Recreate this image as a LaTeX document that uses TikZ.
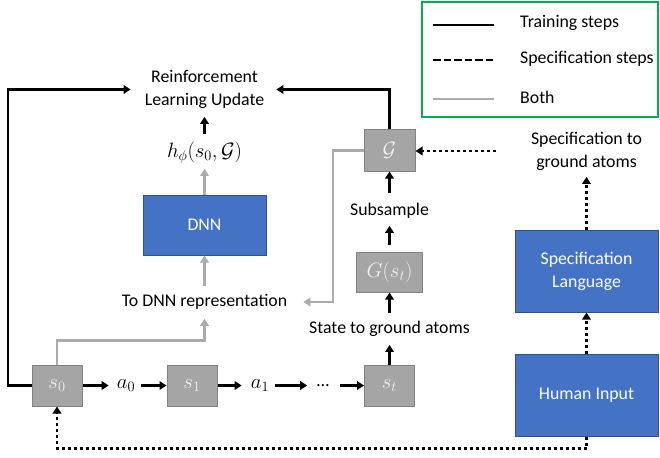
\documentclass[tikz,border=0pt]{standalone}
\usepackage[no-math]{fontspec}
\setmainfont{Carlito}
\usetikzlibrary{arrows.meta}
\definecolor{boxblue}{RGB}{68,114,196}
\definecolor{boxblueedge}{RGB}{47,82,143}
\definecolor{stategrey}{RGB}{165,165,165}
\definecolor{stateedge}{RGB}{130,130,130}
\definecolor{linegrey}{RGB}{171,171,171}
\definecolor{legendgreen}{RGB}{0,176,80}
% larger size for the math symbols
\newcommand{\bigmath}[1]{{\fontsize{20.7}{23}\selectfont$#1$}}

\begin{document}
\begin{tikzpicture}[x=1pt,y=-1pt,
  font=\fontsize{17.8}{23}\selectfont,
  arrowtip/.style={-{Triangle[length=7pt,width=8.5pt]}},
  train/.style={draw=black,line width=2.8pt,arrowtip},
  both/.style={draw=linegrey,line width=2.8pt,arrowtip},
  specline/.style={draw=black,line width=2.8pt,dash pattern=on 3pt off 3pt,arrowtip},
  txt/.style={inner sep=0pt,align=center},
  statebox/.style={draw=stateedge,fill=stategrey,line width=1pt,text=white!94!black,inner sep=0pt},
  bluebox/.style={draw=boxblueedge,fill=boxblue,line width=1pt,text=white,align=center,inner sep=0pt},
]
\useasboundingbox (0,0) rectangle (660,457);

% legend
\node[draw=legendgreen,line width=1.5pt,minimum width=236pt,minimum height=115pt,inner sep=0pt] (legend) at (540,59.5) {};
\coordinate (t1) at (433,25);  \coordinate (t2) at (494,25);
\coordinate (p1) at (433,60);  \coordinate (p2) at (494,60);
\coordinate (b1) at (433,99);  \coordinate (b2) at (494,99);
\draw[line width=2.8pt] (t1) -- (t2);
\draw[line width=2.8pt,dash pattern=on 7.5pt off 3pt] (p1) -- (p2);
\draw[line width=2.8pt,linegrey] (b1) -- (b2);
\node[txt,anchor=west] (ltrain) at (520,23) {Training steps};
\node[txt,anchor=west] (lspec) at (520,59) {Specification steps};
\node[txt,anchor=west] (lboth) at (520,97) {Both};

% nodes
\node[txt] (rl) at (204.5,89.5) {Reinforcement\\Learning Update};
\node[txt] (h) at (204.5,153) {\bigmath{h_\phi(s_0,\mathcal{G})}};
\node[bluebox,minimum width=123pt,minimum height=60pt] (dnn) at (204.5,225) {DNN};
\node[txt] (todnn) at (204.5,302) {To DNN representation};
\node[statebox,minimum width=51pt,minimum height=41pt] (G) at (389.5,150.5) {\bigmath{\mathcal{G}}};
\node[txt] (sub) at (389.5,211) {Subsample};
\node[statebox,minimum width=66pt,minimum height=40pt] (Gst) at (389.5,272) {\bigmath{G(s_t)}};
\node[txt] (state) at (389.5,329) {State to ground atoms};
\node[txt] (spec) at (586.5,151) {Specification to\\ground atoms};
\node[bluebox,minimum width=143pt,minimum height=82pt] (sl) at (586.5,271) {Specification\\Language};
\node[bluebox,minimum width=143pt,minimum height=82pt] (hi) at (586.5,395) {Human Input};
\node[statebox,minimum width=50pt,minimum height=41pt] (s0) at (57,385.5) {\bigmath{s_0}};
\node[txt] (a0) at (126,385.5) {\bigmath{a_0}};
\node[statebox,minimum width=50pt,minimum height=41pt] (s1) at (192,385.5) {\bigmath{s_1}};
\node[txt] (a1) at (260,385.5) {\bigmath{a_1}};
\node[txt] (dots) at (323,385.5) {…};
\node[statebox,minimum width=50pt,minimum height=41pt] (st) at (389.5,385.5) {\bigmath{s_t}};

% training connectors
\draw[train,shorten >=14pt] (s0.west) -- (8,385.5) |- (rl.west);
\draw[train,shorten >=12pt] (G.north) |- (rl.east);
\draw[train,shorten <=8pt,shorten >=8pt] (h.north) -- (h.north |- rl.south);
\draw[train,shorten >=8pt] (s0.east) -- (a0.west);
\draw[train,shorten <=6pt] (a0.east) -- (s1.west);
\draw[train,shorten >=9pt] (s1.east) -- (a1.west);
\draw[train,shorten <=6pt,shorten >=9.5pt] (a1.east) -- (dots.west);
\draw[train,shorten <=10.5pt] (dots.east) -- (st.west);
\draw[train,shorten >=8pt] (st.north) -- (st.north |- state.south);
\draw[train,shorten <=8pt] (state.north) -- (state.north |- Gst.south);
\draw[train,shorten <=7pt,shorten >=7pt] (Gst.north) -- (Gst.north |- sub.south);
\draw[train,shorten <=10pt] (sub.north) -- (sub.north |- G.south);

% connectors used by both
\draw[both,shorten >=5pt] (dnn.north) -- (dnn.north |- h.south);
\draw[both,shorten <=8pt] (todnn.north) -- (todnn.north |- dnn.south);
\draw[both,shorten >=9pt] (s0.north) -- ++(0,-24) -| (todnn.south);
\draw[both,shorten >=16pt] (G.west) -- (333,150.5) |- (todnn.east);

% specification connectors
\draw[specline,shorten <=35pt] (spec.west) -- (spec.west -| G.east);
\draw[specline,shorten >=6.5pt] (sl.north) -- (sl.north |- spec.south);
\draw[specline] (hi.north) -- (sl.south);
\draw[specline] (hi.south) -- ++(0,12) -| (s0.south);
\end{tikzpicture}
\end{document}
